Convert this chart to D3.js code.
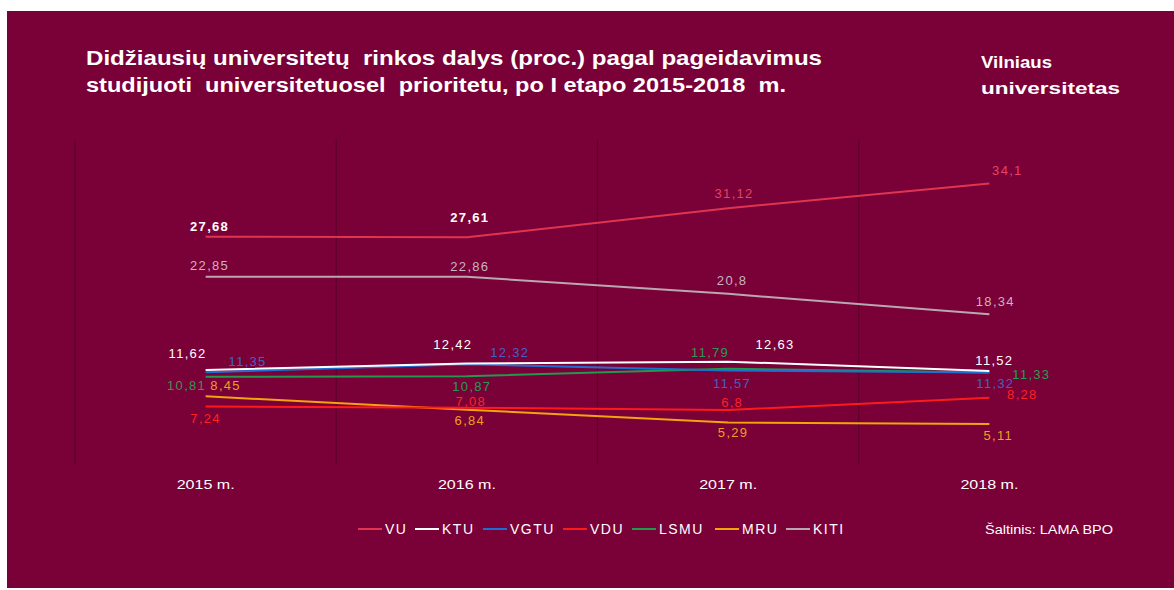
<!DOCTYPE html>
<html><head><meta charset="utf-8">
<script src="https://cdn.jsdelivr.net/npm/d3@7"></script>
<style>body{margin:0;background:#fff}svg{display:block}</style>
</head><body><svg id="c" width="1174" height="590"></svg>
<script>
// ---- data ----
const years = ["2015 m.", "2016 m.", "2017 m.", "2018 m."];
const seriesNames = ["VU", "KTU", "VGTU", "VDU", "LSMU", "MRU", "KITI"];
const VU   = [27.68, 27.61, 31.12, 34.1];
const KTU  = [11.62, 12.42, 12.63, 11.52];
const VGTU = [11.35, 12.32, 11.57, 11.32];
const VDU  = [7.24, 7.08, 6.8, 8.28];
const LSMU = [10.81, 10.87, 11.79, 11.33];
const MRU  = [8.45, 6.84, 5.29, 5.11];
const KITI = [22.85, 22.86, 20.8, 18.34];
const titleLines = ["Didžiausių universitetų  rinkos dalys (proc.) pagal pageidavimus",
                    "studijuoti  universitetuosel  prioritetu, po I etapo 2015-2018  m."];
const brandLines = ["Vilniaus", "universitetas"];
const sourceText = "Šaltinis: LAMA BPO";

// ---- styles (separate from data) ----
const lineColors  = {VU:"#e0344f", KTU:"#ffffff", VGTU:"#1f6fd2", VDU:"#ff1a1a", LSMU:"#1f9a4e", MRU:"#f2a40c", KITI:"#b8a8b0"};
const labelColors = {VU:"#e34562", KTU:"#ffffff", VGTU:"#3f63c4", VDU:"#ff2222", LSMU:"#2a9a52", MRU:"#eaa21c", KITI:"#c6b6be"};
// label offsets [dx, dy] relative to the point, per series per year
const labelOffsets = {
  VU:   [[4,-10],[3,-20],[6,-15],[18,-13]],
  KTU:  [[-18,-17],[-14,-19],[47,-17],[5,-10]],
  VGTU: [[42,-11],[43,-12],[4,13],[6,11]],
  VDU:  [[0,12],[4,-6],[4,-8],[33,-3]],
  LSMU: [[-19,9],[5,10],[-18,-16],[42,2]],
  MRU:  [[20,-11],[3,11],[5,10],[9,11]],
  KITI: [[4,-11],[3,-10],[4,-13],[6,-13]]
};
const vuBold = [true, true, false, false];
const titleWidths = [736, 700];
const brandWidths = [71, 139];

const seriesData = {VU, KTU, VGTU, VDU, LSMU, MRU, KITI};

const svg = d3.select("#c");
const FONT = "'Liberation Sans', Arial, sans-serif";

svg.append("rect").attr("x",7).attr("y",11).attr("width",1167).attr("height",577).attr("fill","#7a0038");

const x = d3.scaleBand().domain(years).range([75, 1120]);
const y = d3.scaleLinear().domain([0, 40]).range([466.5, 134.5]);

// vertical separators
svg.append("g").selectAll("line").data(years).join("line")
  .attr("x1", d => x(d)).attr("x2", d => x(d))
  .attr("y1", 140).attr("y2", 464)
  .attr("stroke", "#5c002a").attr("stroke-width", 1.2);

// x axis labels
const xAxis = d3.axisBottom(x).tickSize(0).tickPadding(0);
const gx = svg.append("g").attr("transform","translate(0,484)").call(xAxis);
gx.select(".domain").remove();
gx.selectAll("text").attr("fill","#ffffff").style("font-family",FONT).style("font-size","13px")
  .attr("dy","0.35em").attr("textLength",58).attr("lengthAdjust","spacingAndGlyphs");

const line = d3.line().x((d,i) => x(years[i]) + x.bandwidth()/2).y(d => y(d));

const drawOrder = ["KITI","MRU","VDU","LSMU","VGTU","KTU","VU"];
drawOrder.forEach(name => {
  svg.append("path").datum(seriesData[name])
    .attr("d", line).attr("fill","none")
    .attr("stroke", lineColors[name]).attr("stroke-width", 2);
});

// value labels
seriesNames.forEach(name => {
  const vals = seriesData[name];
  svg.append("g").selectAll("text").data(vals).join("text")
    .attr("x", (d,i) => x(years[i]) + x.bandwidth()/2 + labelOffsets[name][i][0])
    .attr("y", (d,i) => y(d) + labelOffsets[name][i][1])
    .attr("dy","0.35em")
    .attr("text-anchor","middle")
    .attr("fill", (d,i) => (name==="VU" && vuBold[i]) ? "#ffffff" : labelColors[name])
    .attr("font-weight", (d,i) => (name==="VU" && vuBold[i]) ? "bold" : "normal")
    .style("font-family", FONT).style("font-size","13px").style("letter-spacing","1.3px")
    .text(d => String(d).replace(".", ","));
});

// title
const tt = svg.append("g");
titleLines.forEach((t,i) => {
  tt.append("text").attr("x",86).attr("y",65 + i*27)
    .style("font-family",FONT).style("font-size","20px").attr("font-weight","bold").attr("fill","#ffffff")
    .style("white-space","pre")
    .attr("textLength",titleWidths[i]).attr("lengthAdjust","spacingAndGlyphs")
    .text(t);
});

brandLines.forEach((t,i) => {
  svg.append("text").attr("x",981).attr("y",68 + i*26)
    .style("font-family",FONT).style("font-size","17px").attr("font-weight","bold").attr("fill","#ffffff")
    .attr("textLength",brandWidths[i]).attr("lengthAdjust","spacingAndGlyphs")
    .text(t);
});

// legend
const legendX = [358, 415, 483, 563, 632, 715, 786];
const lg = svg.append("g");
seriesNames.forEach((name,i) => {
  lg.append("line").attr("x1",legendX[i]).attr("x2",legendX[i]+24).attr("y1",529).attr("y2",529)
    .attr("stroke",lineColors[name]).attr("stroke-width",2);
  lg.append("text").attr("x",legendX[i]+27).attr("y",529).attr("dy","0.35em")
    .attr("fill","#ffffff").style("font-family",FONT).style("font-size","14px").style("letter-spacing","1.5px")
    .text(name);
});

svg.append("text").attr("x",985).attr("y",530).attr("dy","0.35em")
  .attr("fill","#ffffff").style("font-family",FONT).style("font-size","12px")
  .attr("textLength",128).attr("lengthAdjust","spacingAndGlyphs").text(sourceText);
</script></body></html>
